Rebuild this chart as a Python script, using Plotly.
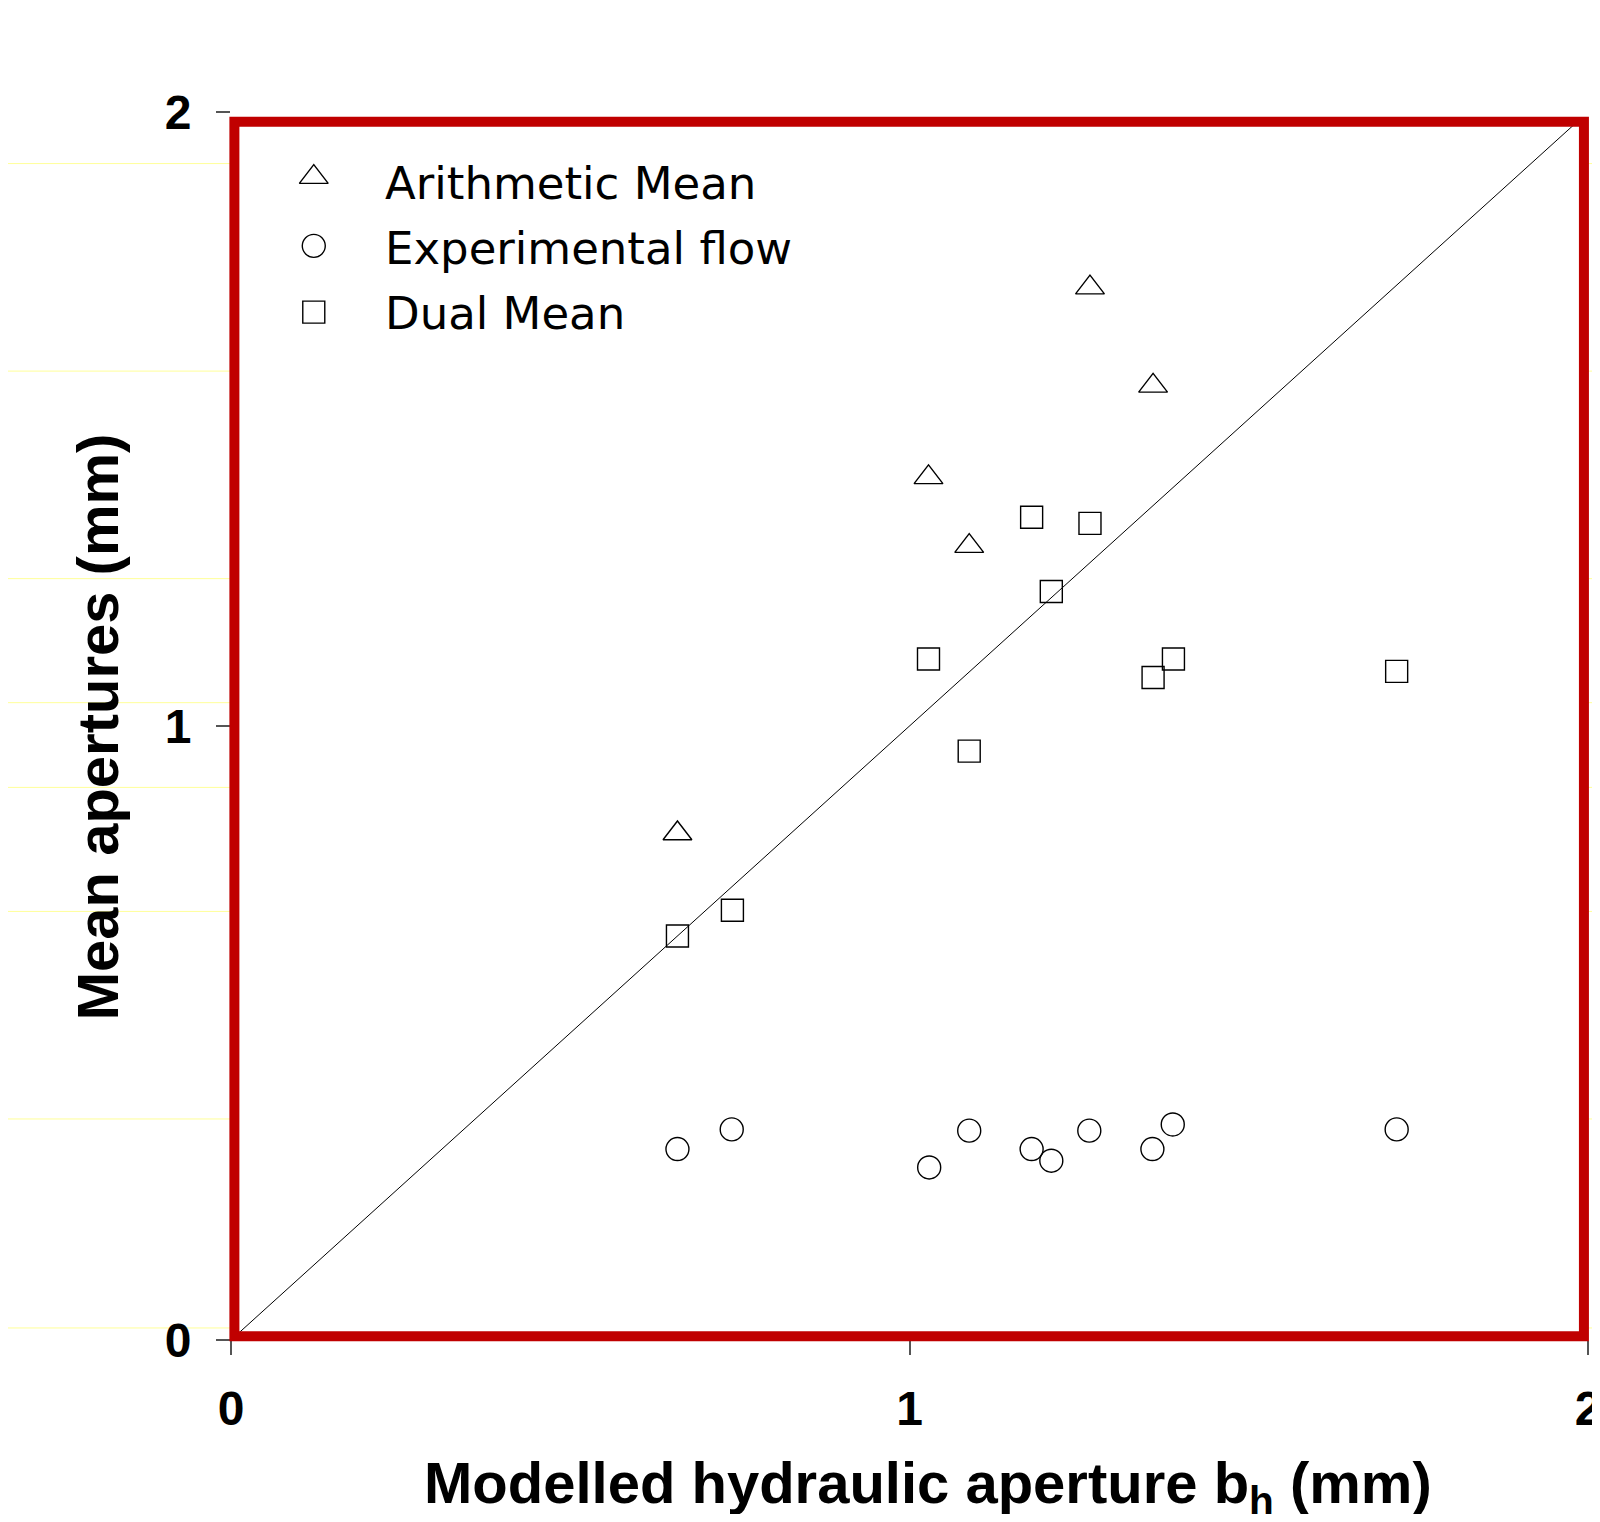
import plotly.graph_objects as go

# ---- data ----
arith_x = [1.266, 1.359, 1.028, 1.088, 0.658]
arith_y = [1.714, 1.554, 1.405, 1.293, 0.825]

dual_x = [1.180, 1.266, 1.209, 1.028, 1.389, 1.359, 1.718, 1.088, 0.739, 0.658]
dual_y = [1.340, 1.330, 1.219, 1.109, 1.109, 1.079, 1.089, 0.959, 0.700, 0.658]

exp_x = [0.658, 0.738, 1.029, 1.088, 1.180, 1.209, 1.265, 1.358, 1.388, 1.718]
exp_y = [0.311, 0.343, 0.281, 0.341, 0.311, 0.292, 0.341, 0.311, 0.351, 0.343]

line_xy = [0.0, 1.98]
tick_vals = [0, 1, 2]
tick_text = ["0", "1", "2"]

legend_names = ["Arithmetic Mean", "Experimental flow", "Dual Mean"]
legend_symbols = ["triangle-up-open", "circle-open", "square-open"]
legend_sizes = [25, 23, 22]

# faint yellow stray lines (paper y)
yellow_y = [0.958, 0.789, 0.620, 0.519, 0.450, 0.349, 0.180, 0.0098]

fig = go.Figure()

fig.add_trace(go.Scatter(x=line_xy, y=line_xy, mode="lines",
                         line=dict(color="black", width=1), hoverinfo="skip",
                         showlegend=False))

mk = dict(color="black", line=dict(color="black", width=1.4))
fig.add_trace(go.Scatter(x=arith_x, y=arith_y, mode="markers", name=legend_names[0],
                         marker=dict(symbol="triangle-up-open", size=25, **mk),
                         showlegend=False))
fig.add_trace(go.Scatter(x=exp_x, y=exp_y, mode="markers", name=legend_names[1],
                         marker=dict(symbol="circle-open", size=23, **mk),
                         showlegend=False))
fig.add_trace(go.Scatter(x=dual_x, y=dual_y, mode="markers", name=legend_names[2],
                         marker=dict(symbol="square-open", size=22, **mk),
                         showlegend=False))

# custom legend on an overlay axis spanning the plot area [0,1]
leg_x = 0.061
leg_y = [0.947, 0.891, 0.837]
txt_y = [0.942, 0.889, 0.836]
for i in range(3):
    fig.add_trace(go.Scatter(x=[leg_x], y=[leg_y[i]], xaxis="x2", yaxis="y2",
                             mode="markers",
                             marker=dict(symbol=legend_symbols[i], size=legend_sizes[i], **mk),
                             showlegend=False, hoverinfo="skip"))
    fig.add_annotation(x=(383 - 231) / 1357, y=txt_y[i], xref="paper", yref="paper",
                       text=legend_names[i], showarrow=False, xanchor="left",
                       yanchor="middle",
                       font=dict(family="DejaVu Sans", size=45, color="black"))

shapes = []
for yy in yellow_y:
    shapes.append(dict(type="line", xref="paper", yref="paper", x0=-0.2, x1=0.0,
                       y0=yy, y1=yy, line=dict(color="#FFFF99", width=1), layer="below"))
    shapes.append(dict(type="line", xref="paper", yref="paper", x0=1.0, x1=1.02,
                       y0=yy, y1=yy, line=dict(color="#FFFF99", width=1), layer="below"))
shapes.append(dict(type="rect", xref="paper", yref="paper",
                   x0=0.0025, x1=0.997, y0=0.003, y1=0.992,
                   line=dict(color="#C00000", width=10)))

axis_common = dict(range=[0, 2], tickvals=tick_vals, ticktext=tick_text,
                   showgrid=False, zeroline=False, showline=False, automargin=False,
                   ticklabeloverflow="allow",
                   ticks="outside", ticklen=14, tickwidth=1.5, tickcolor="#555555",
                   tickfont=dict(family="Liberation Sans", size=48, color="black",
                                 weight="bold"))

fig.update_layout(
    width=1584, height=1506,
    margin=dict(l=223, r=4, t=104, b=174),
    paper_bgcolor="white", plot_bgcolor="white",
    xaxis=dict(**axis_common, ticklabelstandoff=12),
    yaxis=dict(**axis_common, ticklabelstandoff=15),
    xaxis2=dict(range=[0, 1], overlaying="x", visible=False),
    yaxis2=dict(range=[0, 1], overlaying="y", visible=False),
    shapes=shapes,
)

fig.add_annotation(x=(97 - 231) / 1357, y=0.499, xref="paper", yref="paper",
                   text="<b>Mean apertures (mm)</b>", textangle=-90, showarrow=False,
                   xanchor="center", yanchor="middle",
                   font=dict(family="Liberation Sans", size=58, color="black"))
fig.add_annotation(x=(928 - 231) / 1357, y=-0.088, xref="paper", yref="paper",
                   text="<b>Modelled hydraulic aperture b<sub>h</sub> (mm)</b>",
                   showarrow=False, xanchor="center", yanchor="top",
                   font=dict(family="Liberation Sans", size=58, color="black"))

fig.write_html("out.html")
